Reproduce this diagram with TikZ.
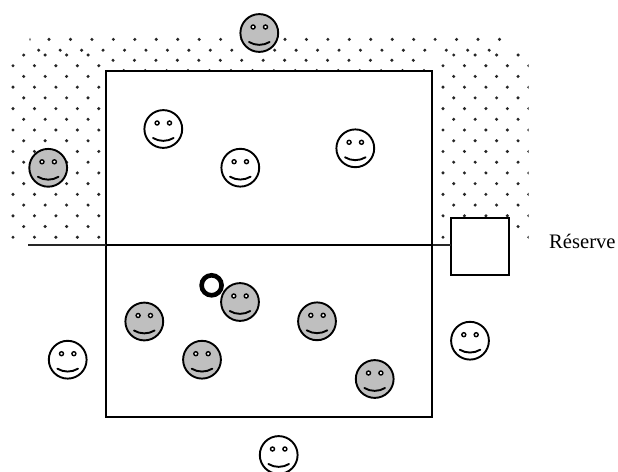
\documentclass[tikz,border=0pt]{standalone}
\usepackage{fontspec}
\setmainfont{Liberation Serif}
\definecolor{facegray}{gray}{0.75}
\tikzset{
  dotmark/.style={fill=black!85,draw=none},
  zone/.style={draw=black,line width=2pt,fill=white},
  thinline/.style={draw=black!85,line width=1.3pt},
}
\newcommand{\smiley}[3]{%
  \begin{scope}[shift={(#1,#2)}]
    \draw[line width=1.9pt,fill=#3] (0,0) circle (18.9);
    \draw[line width=1.4pt,fill=white] (-6.2,-6) circle (2);
    \draw[line width=1.4pt,fill=white] (6.2,-6) circle (2);
    \draw[line width=1.9pt,line cap=round] (-10.3,9) .. controls (-4,12.8) and (4,12.8) .. (10.3,9);
  \end{scope}}
\newcommand{\dotrow}[4]{%
  \foreach \k in {0,...,#3} {\fill[dotmark] ({#1+21.45*\k},#2) circle (#4);}}
\begin{document}
\begin{tikzpicture}[x=1pt,y=-1pt]
\useasboundingbox (0,0) rectangle (618,471);
\fill[white] (0,0) rectangle (618,471);
\begin{scope}
  \clip (8,30) rectangle (528.7,245);
  % top band
  \fill[dotmark] (30,39.4) ellipse (0.6 and 1.6);
  \dotrow{49}{39.4}{21}{1.7}
  \dotrow{38.7}{50.2}{21}{1.7}
  \dotrow{113}{60.3}{14}{1.7}
  \dotrow{123.7}{70.6}{14}{1.7}
  % left block
  \foreach \n in {0,2,...,16} {\dotrow{23.7}{55+10.72*\n}{3}{1.7}}
  \foreach \n in {1,3,...,17} {\dotrow{13}{55+10.72*\n}{4}{1.7}}
  % right block
  \foreach \n in {0,2,...,16} {\dotrow{453.7}{55+10.72*\n}{3}{1.7}}
  \foreach \n in {1,3,...,17} {\dotrow{443}{55+10.72*\n}{4}{1.7}}
\end{scope}
\node[zone,minimum width=326pt,minimum height=174pt,inner sep=0pt,outer sep=0pt,anchor=north west] (upper) at (106,71) {};
\node[zone,minimum width=326pt,minimum height=172pt,inner sep=0pt,outer sep=0pt,anchor=north west] (lower) at (106,245) {};
\node[zone,minimum width=58pt,minimum height=57pt,inner sep=0pt,outer sep=0pt,anchor=north west] (reserve) at (451,218) {};
\coordinate (lineend) at (28,245);
\draw[thinline] (lineend) -- (reserve.west |- lineend);
\draw[line width=2pt] (upper.north east) -- (lower.south east);
\draw[line width=2pt] (upper.south west) -- (upper.south east);
\node[anchor=base west,inner sep=0pt,font=\fontsize{20.6}{22}\selectfont] (lab) at (549,248) {Réserve};
% gray smileys
\smiley{259.3}{33}{facegray}
\smiley{48.2}{167.8}{facegray}
\smiley{240}{302}{facegray}
\smiley{144.3}{321.5}{facegray}
\smiley{317}{321.3}{facegray}
\smiley{202}{359.7}{facegray}
\smiley{374.7}{379}{facegray}
% white smileys
\smiley{163.3}{129}{white}
\smiley{240.3}{167.7}{white}
\smiley{355.3}{148.3}{white}
\smiley{67.7}{359.7}{white}
\smiley{470}{340.7}{white}
\smiley{278.7}{455}{white}
% ring
\draw[line width=4.6pt,fill=white] (211.6,285.3) circle (10);
\end{tikzpicture}
\end{document}
